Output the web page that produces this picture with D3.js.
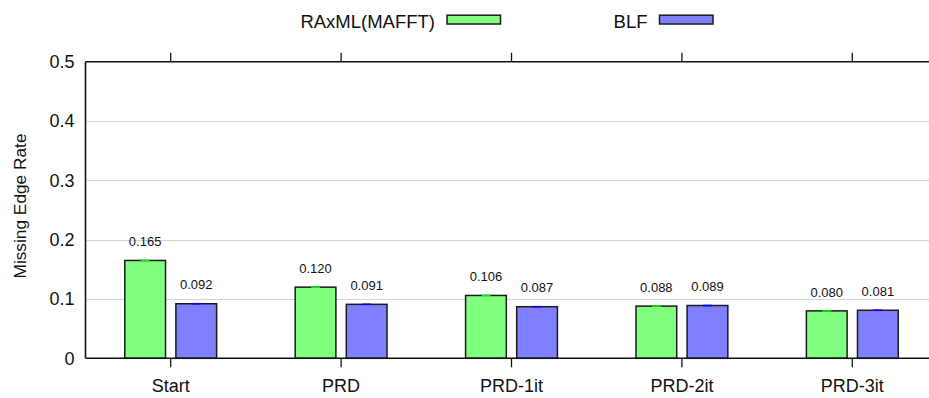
<!DOCTYPE html>
<html>
<head>
<meta charset="utf-8">
<script src="https://cdn.jsdelivr.net/npm/d3@7"></script>
<style>
  html, body { margin: 0; padding: 0; background: #fff; }
  svg { display: block; font-family: "Liberation Sans", Arial, Helvetica, sans-serif; }
</style>
</head>
<body>
<svg id="chart" width="929" height="398"></svg>
<script>
// Missing edge rate per refinement stage, two methods side by side
const categories = ["Start", "PRD", "PRD-1it", "PRD-2it", "PRD-3it"];
const raxmlValues = [0.165, 0.120, 0.106, 0.088, 0.080];
const blfValues = [0.092, 0.091, 0.087, 0.089, 0.081];
const yTicks = [0, 0.1, 0.2, 0.3, 0.4, 0.5];
const seriesNames = ["RAxML(MAFFT)", "BLF"];

const series = [
  { name: seriesNames[0], values: raxmlValues, fill: "#80ff80", cap: "#00ee00", offset: -0.15 },
  { name: seriesNames[1], values: blfValues, fill: "#8080ff", cap: "#0000ff", offset: 0.15 }
];

const svg = d3.select("#chart");
const plotLeft = 85.5, plotTop = 61.8, plotBottom = 358.3;
const step = 170.4;

// category index scale; the frame runs past the right edge of the canvas
const x = d3.scaleLinear().domain([-0.5, categories.length - 0.5])
  .range([plotLeft, plotLeft + step * categories.length]);
const y = d3.scaleLinear().domain([0, 0.5]).range([plotBottom, plotTop]);
const barW = 0.239;

// horizontal grid
svg.append("g").selectAll("line")
  .data(yTicks.filter(t => t > 0 && t < 0.5))
  .join("line")
  .attr("x1", plotLeft).attr("x2", 929)
  .attr("y1", d => Math.round(y(d)) + 0.5).attr("y2", d => Math.round(y(d)) + 0.5)
  .attr("stroke", "#d4d4d4").attr("stroke-width", 1.2);

// y axis labels
const yAxis = d3.axisLeft(y).tickValues(yTicks)
  .tickFormat(d => d === 0 ? "0" : d3.format(".1f")(d))
  .tickSize(0).tickPadding(11);
const yg = svg.append("g").attr("transform", `translate(${plotLeft},0)`).call(yAxis);
yg.select(".domain").remove();
yg.selectAll("text").attr("font-size", 18).attr("fill", "#111")
  .attr("font-family", "'Liberation Sans', Arial, sans-serif");

// bars
series.forEach(s => {
  const g = svg.append("g");
  g.selectAll("rect").data(s.values).join("rect")
    .attr("x", (d, i) => x(i + s.offset - barW / 2))
    .attr("width", x(barW) - x(0))
    .attr("y", d => y(d))
    .attr("height", d => y(0) - y(d))
    .attr("fill", s.fill)
    .attr("stroke", "#1a1a1a").attr("stroke-width", 1.5);
  // error caps
  g.selectAll("line").data(s.values).join("line")
    .attr("x1", (d, i) => x(i + s.offset) - 4.5)
    .attr("x2", (d, i) => x(i + s.offset) + 4.5)
    .attr("y1", d => y(d)).attr("y2", d => y(d))
    .attr("stroke", s.cap).attr("stroke-width", 1.6);
  // value labels
  g.selectAll("text").data(s.values).join("text")
    .attr("x", (d, i) => x(i + s.offset))
    .attr("y", d => y(d) - 14.3)
    .attr("text-anchor", "middle")
    .attr("font-size", 13).attr("fill", "#111")
    .text(d => d3.format(".3f")(d));
});

// frame: left, bottom, top
const frame = svg.append("g").attr("stroke", "#111").attr("stroke-width", 1.6).attr("fill", "none");
frame.append("line").attr("x1", plotLeft).attr("x2", plotLeft).attr("y1", plotTop).attr("y2", plotBottom);
frame.append("line").attr("x1", plotLeft).attr("x2", 929).attr("y1", plotBottom).attr("y2", plotBottom);
frame.append("line").attr("x1", plotLeft).attr("x2", 929).attr("y1", plotTop).attr("y2", plotTop);

// category ticks (bottom and mirrored on top), pointing outward
const ticks = svg.append("g").attr("stroke", "#111").attr("stroke-width", 1.3);
categories.forEach((c, i) => {
  ticks.append("line").attr("x1", x(i)).attr("x2", x(i)).attr("y1", plotBottom).attr("y2", plotBottom + 9);
  ticks.append("line").attr("x1", x(i)).attr("x2", x(i)).attr("y1", plotTop).attr("y2", plotTop - 9);
});
svg.append("g").selectAll("text").data(categories).join("text")
  .attr("x", (d, i) => x(i)).attr("y", 391.7)
  .attr("text-anchor", "middle").attr("font-size", 18).attr("fill", "#111")
  .text(d => d);

// y axis title
svg.append("text")
  .attr("transform", "translate(26,206) rotate(-90)")
  .attr("text-anchor", "middle").attr("font-size", 17.3).attr("fill", "#111")
  .text("Missing Edge Rate");

// legend
const legendX = [435, 647.5];
series.forEach((s, k) => {
  const lg = svg.append("g");
  lg.append("text").attr("x", legendX[k]).attr("y", 27.5)
    .attr("text-anchor", "end").attr("font-size", 18.5).attr("fill", "#111")
    .text(s.name);
  lg.append("rect").attr("x", legendX[k] + 12).attr("y", 15.2)
    .attr("width", 53.5).attr("height", 8.8)
    .attr("fill", s.fill).attr("stroke", "#1a1a1a").attr("stroke-width", 1.5);
});
</script>
</body>
</html>
